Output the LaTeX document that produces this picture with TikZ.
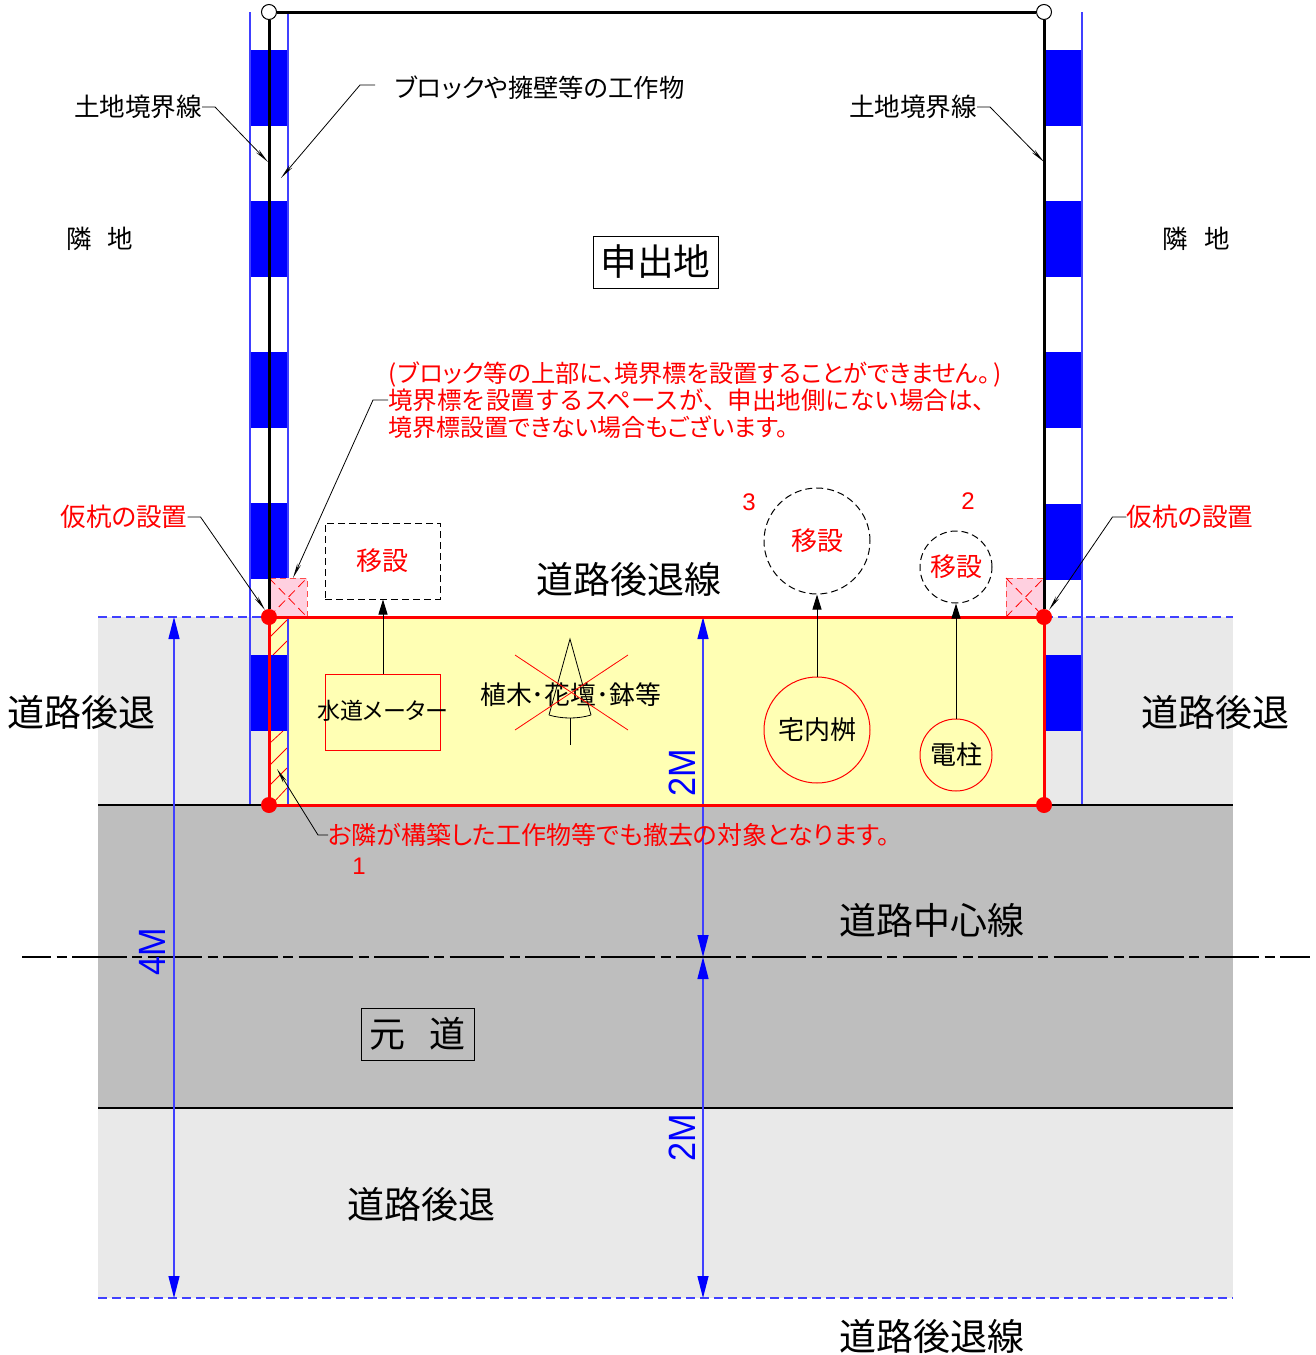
\documentclass[tikz,border=0pt]{standalone}
\usepackage{fontspec}
\setmainfont{Noto Sans CJK JP}[RawFeature=+palt]
\newfontfamily\fullw{Noto Sans CJK JP}
\newfontfamily\latinf{Liberation Sans}
\usetikzlibrary{arrows.meta}
\definecolor{blk}{HTML}{0000FF}
\definecolor{bl}{HTML}{4040FF}
\definecolor{rd}{HTML}{FF0000}
\definecolor{lg}{HTML}{E9E9E9}
\definecolor{dg}{HTML}{BEBEBE}
\definecolor{yl}{HTML}{FFFFB4}
\definecolor{pk}{HTML}{FFD0E0}
\newcommand{\fsz}[1]{\fontsize{#1}{#1}\selectfont}
\tikzset{
 txt/.style={inner sep=0pt,outer sep=0pt,text=black,font=\fsz{#1}},
 rtxt/.style={inner sep=0pt,outer sep=0pt,text=rd,font=\fsz{#1}},
 num/.style={inner sep=0pt,text=rd,font=\fsz{24}\latinf},
 dim/.style={inner sep=0pt,text=blk,rotate=90,font=\fsz{38}\latinf},
 leader/.style={draw=black,line width=0.8pt,-{Stealth[open,length=15pt,width=4pt]}},
 bluel/.style={draw=bl,line width=1.3pt},
 dimarrow/.style={draw=bl,line width=1.3pt,{Triangle[length=22pt,width=11pt,fill=blk,color=blk]}-{Triangle[length=22pt,width=11pt,fill=blk,color=blk]}},
 bluedash/.style={draw=bl,line width=1.1pt,dash pattern=on 9pt off 5pt},
 up/.style={draw=black,line width=1pt,-{Triangle[length=15pt,width=9pt]}},
 dashc/.style={circle,draw=black,line width=1pt,dash pattern=on 7pt off 4pt,inner sep=0pt},
 redc/.style={circle,draw=rd,line width=1pt,inner sep=0pt},
 dot/.style={circle,fill=rd,inner sep=0pt,minimum size=16pt},
 wdot/.style={circle,fill=white,draw=black,line width=1pt,inner sep=0pt,minimum size=15pt},
 pinkbox/.style={fill=pk,draw=rd!70,line width=1pt,dash pattern=on 6pt off 4pt},
 xdash/.style={draw=rd,line width=0.8pt,dash pattern=on 9pt off 5pt},
 hatch/.style={draw=rd,line width=0.8pt},
 ground/.style={draw=black,line width=2pt},
 boundary/.style={draw=black,line width=3pt},
}
\begin{document}
\begin{tikzpicture}[x=1pt,y=-1pt]
\useasboundingbox (0,0) rectangle (1316,1355);
\fill[white] (0,0) rectangle (1316,1355);
% road bands
\fill[lg] (98,617) rectangle (1233,805);
\fill[dg] (98,805) rectangle (1233,1108);
\fill[lg] (98,1108) rectangle (1233,1298);
\fill[yl] (269,617) rectangle (1044,805);
% blue blocks
\foreach \y in {50,201,352,503,655}{\fill[blk] (250,\y) rectangle (288,\y+76);}
\foreach \y in {50,201,352,504,655}{\fill[blk] (1044,\y) rectangle (1082,\y+76);}
% hatch
\foreach \a/\b/\c/\d in {270/637/287/620,273/655/287/641,270/743/283/731,270/765/287/748,270/785/287/768,273/803/287/788}{
  \draw[hatch] (\a,\b) -- (\c,\d);}
\draw[bluel] (250,12) -- (250,805);
\draw[bluel] (288,12) -- (288,805);
\draw[bluel] (1082,12) -- (1082,805);
% pink
\draw[pinkbox] (269,617) rectangle (307,578);
\draw[xdash] (269,578) -- (307,617);
\draw[xdash] (269,617) -- (307,578);
\draw[pinkbox] (1006,617) rectangle (1044,578);
\draw[xdash] (1006,578) -- (1044,617);
\draw[xdash] (1006,617) -- (1044,578);
% ground & dashes
\draw[ground] (98,805) -- (1233,805);
\draw[ground] (98,1108) -- (1233,1108);
\draw[bluedash] (98,617) -- (269,617);
\draw[bluedash] (1044,617) -- (1233,617);
\draw[bluedash] (98,1298) -- (1233,1298);
% centre line
\draw[black,line width=2.6pt,dash pattern=on 54.5pt off 5.5pt on 10pt off 5.5pt,dash phase=25.5pt] (22,957) -- (1310,957);
% dimension lines
\coordinate (d4a) at (174,617); \coordinate (d4b) at (174,1298);
\coordinate (d2a) at (703,617); \coordinate (d2m) at (703,957); \coordinate (d2b) at (703,1298);
\draw[dimarrow] (d4a) -- (d4b);
\draw[dimarrow] (d2a) -- (d2m);
\draw[dimarrow] (d2m) -- (d2b);
\node[dim] (m1) at (682,773) {\scalebox{0.9}[1]{2M}};
\node[dim] (m2) at (682,1138) {\scalebox{0.9}[1]{2M}};
\node[dim] (m3) at (152,952) {\scalebox{0.9}[1]{4M}};
% red frame
\draw[rd,line width=3pt] (269,617) rectangle (1044,805);
% boundary
\node[wdot] (tl) at (269,12) {};
\node[wdot] (tr) at (1044,12) {};
\node[dot] (c1) at (269,617) {};
\node[dot] (c2) at (1044,617) {};
\node[dot] (c3) at (269,805) {};
\node[dot] (c4) at (1044,805) {};
\draw[boundary] (tl) -- (tr);
\draw[boundary] (tl) -- (c1);
\draw[boundary] (tr) -- (c2);
% labels top
\node[txt=25.6] (bl1) at (138,107) {土地境界線};
\node[txt=25.6] (bl2) at (913,107) {土地境界線};
\node[txt=25.3,anchor=west] (blk) at (395,88) {ブロックや擁壁等の工作物};
\coordinate (p1) at (268,162); \coordinate (p2) at (1044,162); \coordinate (p3) at (281,178);
\draw[leader] (bl1.east) -- ++(13,0) -- (p1);
\draw[leader] (bl2.east) -- ++(13,0) -- (p2);
\draw[leader] (375,85) -- (360,85) -- (p3);
\node[txt=25.5] (n1) at (100,239) {隣\hspace{16pt}地};
\node[txt=25.5] (n2) at (1196,239) {隣\hspace{16pt}地};
\node[draw=black,line width=0.8pt,minimum width=125pt,minimum height=52pt,inner sep=0pt,font=\fsz{36.7}] (moshi) at (655.5,262) {申出地};
% red note
\node[rtxt=24.2,anchor=west] (r1) at (388,374) {(\hspace{2pt}ブロック等の上部に、境界標を設置することができません。\hspace{3pt})};
\node[rtxt=24.5,anchor=west] (r2) at (388,400) {\fullw 境界標を設置するスペースが、申出地側にない場合は、};
\node[rtxt=24,anchor=west] (r3) at (388,427) {境界標設置できない場合もございます。};
\coordinate (p4) at (293,578);
\draw[leader] (r2.west) -- ++(-15,0) -- (p4);
\node[rtxt=25.6] (k1) at (124,517) {仮杭の設置};
\node[rtxt=25.6] (k2) at (1190,517) {仮杭の設置};
\coordinate (p5) at (265,610); \coordinate (p6) at (1049,610);
\draw[leader] (k1.east) -- ++(13,0) -- (p5);
\draw[leader] (k2.west) -- ++(-14,0) -- (p6);
% water meter
\node[draw=black,dash pattern=on 7pt off 4pt,line width=1pt,minimum width=115pt,minimum height=76pt,inner sep=0pt,text=rd,font=\fsz{26}] (i1) at (382.5,561) {\raisebox{-1pt}{移設}};
\node[draw=rd,line width=0.8pt,minimum width=115pt,minimum height=76pt,inner sep=0pt] (w) at (382.5,712) {};
\node[txt=23] (wt) at (383,711) {水道メーター};
\draw[up] (w.north -| wt) -- (i1.south -| wt);
% tree
\draw[black,line width=0.8pt] (570,745) -- (570,718);
\draw[black,line width=0.8pt] (549,715) -- (570,639) -- (591,715);
\draw[black,line width=0.8pt] (549,715) .. controls (562,719) and (578,719) .. (591,715);
\node[txt=25.8] (tree) at (570.5,695) {植木･花壇･鉢等};
\draw[rd,line width=0.8pt] (515,655) -- (628,730);
\draw[rd,line width=0.8pt] (515,730) -- (628,655);
% manholes
\node[dashc,minimum size=106pt,text=rd,font=\fsz{26}] (i2) at (817,541) {\raisebox{-1pt}{移設}};
\node[redc,minimum size=106pt,font=\fsz{26}] (t1) at (817,730) {宅内桝};
\draw[up] (t1.north) -- (i2.south);
\node[dashc,minimum size=72pt,text=rd,font=\fsz{26}] (i3) at (956,567) {移設};
\node[redc,minimum size=72pt,font=\fsz{26}] (t2) at (956,755) {電柱};
\draw[up] (t2.north) -- (i3.south);
\node[num] (n3) at (749,502) {3};
\node[num] (n22) at (968,501) {2};
\node[num] (n11) at (359,866) {1};
% big labels
\node[txt=37] (rl1) at (628.5,579) {道路後退線};
\node[txt=37] (rb1) at (81,712) {道路後退};
\node[txt=37] (rb2) at (1215,712) {道路後退};
\node[txt=37] (rb3) at (421,1204) {道路後退};
\node[txt=37] (rc) at (931.5,920) {道路中心線};
\node[txt=37] (rl2) at (931.5,1336) {道路後退線};
\node[draw=black,line width=0.8pt,minimum width=113pt,minimum height=52pt,inner sep=0pt,font=\fsz{36}] (moto) at (417.5,1034) {元\hspace{24pt}道};
\node[rtxt=25,anchor=west] (o) at (328,835) {お隣が構築した工作物等でも撤去の対象となります。};
\coordinate (p7) at (277,769);
\draw[leader] (o.west) -- ++(-10,0) -- (p7);
\end{tikzpicture}
\end{document}
